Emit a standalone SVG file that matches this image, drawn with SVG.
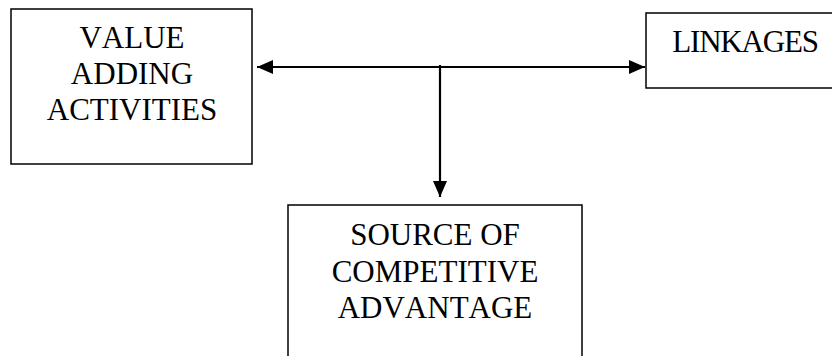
<svg xmlns="http://www.w3.org/2000/svg" width="832" height="356" viewBox="0 0 832 356">
<style>
.box{fill:#fff;stroke:#000;stroke-width:1.5}
.t{font-family:"Liberation Serif","Times New Roman",serif;font-size:31px;fill:#000;text-anchor:middle;font-kerning:none}
.c{stroke:#000;stroke-width:2.2;fill:none}
</style>
<defs>
<marker id="ah" viewBox="0 0 16 14" refX="16" refY="7" markerWidth="16" markerHeight="14" markerUnits="userSpaceOnUse" orient="auto-start-reverse">
<path d="M0,0 L16,7 L0,14 Z" fill="#000"/>
</marker>
</defs>
<rect width="832" height="356" fill="#fff"/>
<g id="value-adding">
<rect class="box" x="11" y="9" width="241" height="155"/>
<text class="t" x="132" y="48">VALUE</text>
<text class="t" x="132" y="84">ADDING</text>
<text class="t" x="132" y="120">ACTIVITIES</text>
</g>
<g id="linkages">
<rect class="box" x="646" y="13" width="200" height="75"/>
<text class="t" x="745" y="52" style="letter-spacing:-1.2px">LINKAGES</text>
</g>
<g id="source">
<rect class="box" x="288" y="205" width="294" height="170"/>
<text class="t" x="435" y="245">SOURCE OF</text>
<text class="t" x="435" y="282">COMPETITIVE</text>
<text class="t" x="435" y="318">ADVANTAGE</text>
</g>
<g id="connectors">
<line class="c" x1="257" y1="67" x2="645" y2="67" marker-start="url(#ah)" marker-end="url(#ah)"/>
<line class="c" x1="440" y1="65" x2="440" y2="197" marker-end="url(#ah)"/>
</g>
</svg>
